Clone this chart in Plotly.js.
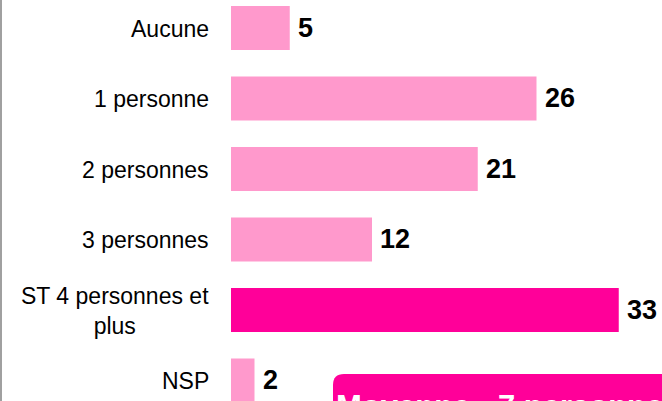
<!DOCTYPE html>
<html>
<head>
<meta charset="utf-8">
<script src="https://cdn.plot.ly/plotly-3.0.1.min.js"></script>
<style>
html,body{margin:0;padding:0;background:#fff;}
#chart{width:662px;height:401px;}
</style>
</head>
<body>
<div id="chart"></div>
<script>
var categories = ["Aucune", "1 personne", "2 personnes", "3 personnes", "ST 4 personnes et<br>plus", "NSP"];
var values = [5, 26, 21, 12, 33, 2];
var barColors = ["#FF99CC", "#FF99CC", "#FF99CC", "#FF99CC", "#FF0099", "#FF99CC"];
var boxText = "Moyenne : 7 personnes";

var W = 662, H = 401, L = 231, R = 0, T = 0, B = 0;
var pw = W - L - R, ph = H - T - B;
function px(x){ return (x - L) / pw; }
function py(y){ return 1 - (y - T) / ph; }

var FONT = "Liberation Sans, Arial, sans-serif";

var trace = {
  type: "bar",
  orientation: "h",
  x: values,
  y: categories,
  marker: {color: barColors, line: {width: 0}},
  width: 0.625,
  hoverinfo: "none"
};

var annotations = [];
categories.forEach(function(c, i){
  annotations.push({
    xref: "x", yref: "y", x: 0, y: c,
    xanchor: "right", yanchor: "middle", xshift: -20, yshift: -1,
    text: c, showarrow: false, align: "center",
    font: {family: FONT, size: 23, color: "#000"}
  });
  annotations.push({
    xref: "x", yref: "y", x: values[i], y: c,
    xanchor: "left", yanchor: "middle", xshift: 6,
    text: "<b>" + values[i] + "</b>", showarrow: false,
    font: {family: FONT, size: 27, color: "#000"}
  });
});

// rounded box
var bl = 333, bt = 374, br = 720, bb = 460, rr = 11;
var path = "M " + px(bl) + " " + py(bb) +
  " L " + px(bl) + " " + py(bt + rr) +
  " Q " + px(bl) + " " + py(bt) + " " + px(bl + rr) + " " + py(bt) +
  " L " + px(br) + " " + py(bt) +
  " L " + px(br) + " " + py(bb) + " Z";

annotations.push({
  xref: "paper", yref: "paper", x: px(334), y: py(387),
  xanchor: "left", yanchor: "top",
  text: "<b>" + boxText + "</b>", showarrow: false,
  font: {family: FONT, size: 31, color: "#fff"}
});

var layout = {
  width: W, height: H,
  margin: {l: L, r: R, t: T, b: B, pad: 0},
  paper_bgcolor: "#fff", plot_bgcolor: "#fff",
  showlegend: false,
  xaxis: {range: [0, pw / 11.75], visible: false, fixedrange: true},
  yaxis: {type: "category", categoryorder: "array", categoryarray: categories,
          range: [5.291, -0.397], visible: false, fixedrange: true},
  shapes: [
    {type: "line", xref: "paper", yref: "paper", x0: px(1), x1: px(1), y0: -0.05, y1: 1.05,
     line: {color: "#A0A0A0", width: 2}},
    {type: "path", xref: "paper", yref: "paper", path: path,
     fillcolor: "#FF0099", line: {width: 0}, layer: "above"}
  ],
  annotations: annotations
};

Plotly.newPlot("chart", [trace], layout, {displayModeBar: false, staticPlot: true});
</script>
</body>
</html>
